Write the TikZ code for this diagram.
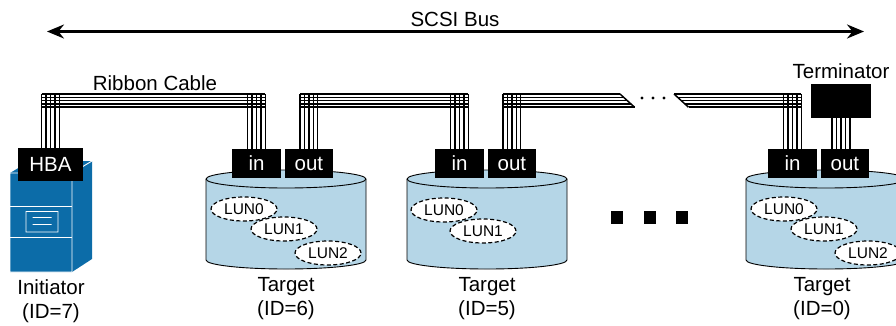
\documentclass[tikz,border=0pt]{standalone}
\usepackage{fontspec}
\setmainfont{Liberation Sans}
\usetikzlibrary{calc, positioning, shapes.geometric, arrows.meta}
\definecolor{serverblue}{RGB}{12,108,168}
\definecolor{diskblue}{RGB}{181,214,231}

\newcommand{\ribbon}[2]{%
    \foreach \d in {-8.8,-4.4,0,4.4,8.8}{
        \draw[wire] ($(#1.north)+(\d,0)$) -- ($(#1.north |- cabletop)+(\d,0)$);
        \draw[wire] ($(#2.north)+(\d,0)$) -- ($(#2.north |- cabletop)+(\d,0)$);
    }
    \foreach \h in {0,3.3,6.6,9.9,13.2}
        \draw[wire] ($(#1.north |- cabletop)+(-8.8,\h)$) -- ($(#2.north |- cabletop)+(8.8,\h)$);
}

\newcommand{\drum}[2]{%
    \coordinate (#1) at (#2,179);
    \filldraw[disk] ($(#1)+(-80,0)$) -- ++(0,81)
        arc[start angle=180, end angle=0, x radius=80, y radius=9] -- ++(0,-81)
        arc[start angle=0, end angle=-180, x radius=80, y radius=9] -- cycle;
    \draw[disk, fill=none] ($(#1)+(-80,0)$) arc[start angle=180, end angle=0, x radius=80, y radius=9];
}

\begin{document}
\begin{tikzpicture}[x=1pt, y=-1pt,
            font=\fontsize{20.5}{24}\selectfont,
            port/.style={fill=black, text=white, minimum width=48.5pt, minimum height=29pt, inner sep=0pt},
            lun/.style={ellipse, draw, dash pattern=on 4pt off 2.5pt, line width=1.2pt, fill=white,
                minimum width=66pt, minimum height=24pt, inner sep=0pt, font=\fontsize{15.5}{18}\selectfont},
            wire/.style={line width=1.5pt},
            disk/.style={fill=diskblue, draw=black, line width=0.9pt},
            caption/.style={align=center, inner sep=0pt, anchor=north},
            bus/.style={line width=2.5pt, {Stealth[length=17pt, width=14pt]}-{Stealth[length=17pt, width=14pt]}}]
            \clip (0,0) rectangle (896,325);

            \fill[serverblue] (10,173) -- (30,161) -- (92,161) -- (92,259) -- (72,272) -- (10,272) -- cycle;
            \draw[white, line width=0.9pt] (10,173) rectangle (72,272) (72,173) -- (92,161)
                (10,206.5) -- (72,206.5) (10,237.5) -- (72,237.5)
                (26,211.5) rectangle (58,232) (32.5,217.5) -- (51.5,217.5) (32.5,224.5) -- (51.5,224.5);

            \drum{t6}{286}
            \drum{t5}{487}
            \drum{t0}{826}
            \foreach \t in {t6,t0}{
                \node[lun] (\t l0) at ($(\t)+(-42,30)$) {LUN0};
                \node[lun] (\t l1) at ($(\t)+(-2,50)$) {LUN1};
                \node[lun] (\t l2) at ($(\t)+(42,74)$) {LUN2};
            }
            \node[lun] (t5l0) at ($(t5)+(-43,31)$) {LUN0};
            \node[lun] (t5l1) at ($(t5)+(-4,52)$) {LUN1};

            \node[port, minimum width=65pt, minimum height=33pt] (hba) at (50.5,164.5) {HBA};
            \node[port] (in6) at (256.5,163.5) {in};
            \node[port, right=3.5pt of in6] (out6) {out};
            \node[port] (in5) at (459.5,163.5) {in};
            \node[port, right=3.5pt of in5] (out5) {out};
            \node[port] (in0) at (792.5,163.5) {in};
            \node[port, right=3.5pt of in0] (out0) {out};
            \node[fill=black, minimum width=60pt, minimum height=34pt, inner sep=0pt] (term) at (841,101) {};

            \coordinate (cabletop) at (0,94);
            \coordinate (cutl) at (620,94);
            \coordinate (cutr) at (674,94);
            \ribbon{hba}{in6}
            \ribbon{out6}{in5}
            \foreach \d in {-8.8,-4.4,0,4.4,8.8}{
                \draw[wire] ($(out5.north)+(\d,0)$) -- ($(out5.north |- cabletop)+(\d,0)$);
                \draw[wire] ($(in0.north)+(\d,0)$) -- ($(in0.north |- cabletop)+(\d,0)$);
                \draw[wire] ($(term.south)+(\d,0)$) -- ($(term.south |- out0.north)+(\d,0)$);
            }
            \foreach \h in {0,3.3,6.6,9.9,13.2}{
                \draw[wire] ($(out5.north |- cabletop)+(-8.8,\h)$) -- ($(cutl)+(1.1*\h,\h)$);
                \draw[wire] ($(cutr)+(1.1*\h,\h)$) -- ($(in0.north |- cabletop)+(8.8,\h)$);
            }
            \draw[wire] (cutl) -- ($(cutl)+(14.5,13.2)$);
            \draw[wire] (cutr) -- ($(cutr)+(14.5,13.2)$);
            \foreach \x in {642,653,664}
                \fill (\x,98) circle[radius=1.6];
            \foreach \x in {617,650,682}
                \fill (\x-6,211) rectangle +(12,13);

            \node[anchor=base, inner sep=0pt] (cablelbl) at (155,90) {Ribbon Cable};
            \node[anchor=base, inner sep=0pt] (termlbl) at (841,78.3) {Terminator};
            \node[caption] (initlbl) at (51,279) {Initiator\\(ID=7)};
            \node[caption] (t6lbl) at (286,277.5) {Target\\(ID=6)};
            \node[caption] (t5lbl) at (487,277.5) {Target\\(ID=5)};
            \node[caption] (t0lbl) at (822,277.5) {Target\\(ID=0)};

            \coordinate (busl) at (47,31.5);
            \coordinate (busr) at (864,31.5);
            \draw[bus] (busl) -- (busr);
            \node[anchor=base, inner sep=0pt] (buslbl) at (455,26.7) {SCSI Bus};
        \end{tikzpicture}
\end{document}
